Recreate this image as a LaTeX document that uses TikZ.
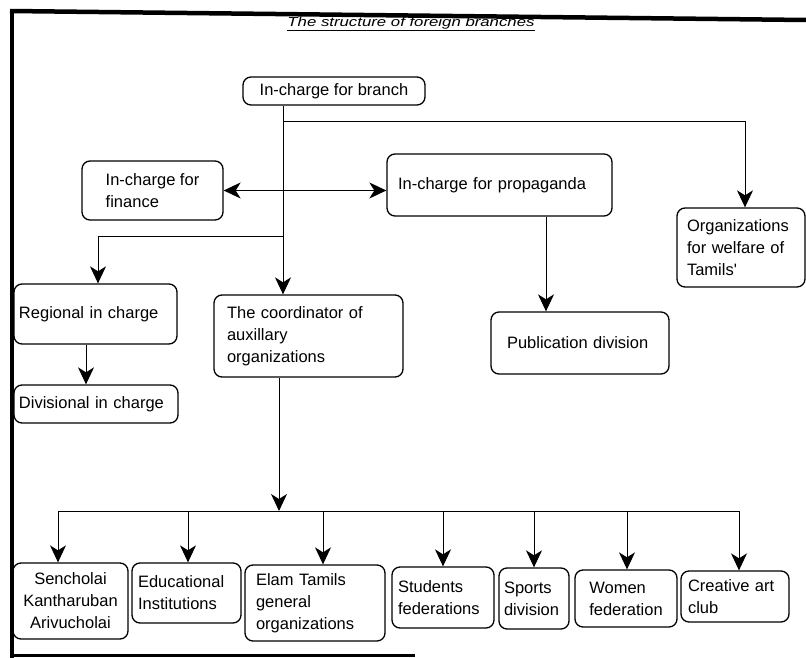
\documentclass[tikz,border=0pt]{standalone}
\usepackage{fontspec}
\setmainfont{Liberation Sans}
\newfontfamily\plainquote{Liberation Sans}[Ligatures=ResetAll]
\usepackage{tikz}
\usetikzlibrary{arrows.meta}

\begin{document}
\begin{tikzpicture}%
        [x=1pt,
        y=-1pt,
        box/.style={draw, line width=1.3pt, rounded corners=8pt, align=left,
                    font=\fontsize{16.5}{22}\selectfont, inner ysep=0pt},
        conn/.style={line width=1pt},
        arr/.style={conn, -{Stealth[length=17pt, width=16pt, inset=5pt]}},
        dblarr/.style={conn, {Stealth[length=17pt, width=16pt, inset=5pt]}-{Stealth[length=17pt, width=16pt, inset=5pt]}},
        frame/.style={line width=4.5pt}]

    \useasboundingbox (0,0) rectangle (806,658);

    %% Drawing the frame and the title
    \draw[frame] (10,11) -- (806,20);
    \draw[frame] (12,11) -- (12,658);
    \draw[line width=3pt] (12,655) -- (415,655);
    \node[xscale=1.29, font=\fontsize{13}{15}\selectfont\itshape] (title) at (411,24) {\underline{The structure of foreign branches}};

    %%
    %% Drawing the boxes
    %%
    \node[box, minimum width=182, minimum height=28, align=center] (branch) at (334,91) {In-charge for branch};
    \node[box, minimum width=141, minimum height=59] (finance) at (152.5,190.5) {In-charge for\\finance};
    \node[box, minimum width=225, minimum height=62, inner xsep=11, text width=203] (propaganda) at (499.5,185) {In-charge for propaganda};
    \node[box, minimum width=128, minimum height=79, inner xsep=10, text width=108] (welfare) at (741,247.5) {Organizations\\for welfare of\\Tamils{\plainquote'}};
    \node[box, minimum width=163, minimum height=60, inner xsep=5, text width=153] (regional) at (95.5,314) {Regional in charge};
    \node[box, minimum width=189, minimum height=82, inner xsep=13, text width=163] (coordinator) at (308.5,336) {The coordinator of\\auxillary\\organizations};
    \node[box, minimum width=178, minimum height=62, inner xsep=16, text width=146] (publication) at (580,343) {Publication division};
    \node[box, minimum width=164, minimum height=38, inner xsep=5, text width=154] (divisional) at (96,404) {Divisional in charge};
    %%
    \node[box, minimum width=115, minimum height=76, align=center] (sencholai) at (70.5,601) {Sencholai\\Kantharuban\\Arivucholai};
    \node[box, minimum width=109, minimum height=60, inner xsep=6, text width=97] (educational) at (186.5,593) {Educational\\Institutions};
    \node[box, minimum width=140, minimum height=76, inner xsep=11, text width=118] (elam) at (315,603) {Elam Tamils\\general\\organizations};
    \node[box, minimum width=102, minimum height=61, inner xsep=6, text width=90] (students) at (443,597.5) {Students\\federations};
    \node[box, minimum width=70, minimum height=61, inner xsep=5, text width=60] (sports) at (534,598.5) {Sports\\division};
    \node[box, minimum width=102, minimum height=57] (women) at (626,598.5) {Women\\federation};
    \node[box, minimum width=108, minimum height=51, inner xsep=7, text width=94] (creative) at (735,596.5) {Creative art\\club};

    %%
    %% Drawing the connectors
    %%
    \coordinate (spine) at (283,122);
    \coordinate (split) at (283,236);
    \coordinate (bus) at (279,511);
    \coordinate (pubin) at ([xshift=-34]publication.north);
    \coordinate (divin) at ([xshift=-10]divisional.north);

    \draw[arr] (branch.south -| spine) -- (coordinator.north -| spine);
    \draw[arr] (spine) -| ([xshift=4]welfare.north);
    \draw[arr] (split) -| ([xshift=2.5]regional.north);
    \draw[dblarr] (finance.east) -- (finance.east -| propaganda.west);
    \draw[arr] (propaganda.south -| pubin) -- (pubin);
    \draw[arr] (regional.south -| divin) -- (divin);
    \draw[arr] (coordinator.south -| bus) -- (bus);

    %% Bus to the auxillary organizations
    \foreach \n/\dx in {sencholai/-12.5, educational/1.5, elam/8, students/0, sports/0, women/1, creative/4}
        \coordinate (\n-in) at ([xshift=\dx]\n.north);
    \draw[conn] (sencholai-in |- bus) -- (creative-in |- bus);
    \foreach \n in {sencholai, educational, elam, students, sports, women, creative}
        \draw[arr] (\n-in |- bus) -- (\n-in);
    %%
\end{tikzpicture}
\end{document}
